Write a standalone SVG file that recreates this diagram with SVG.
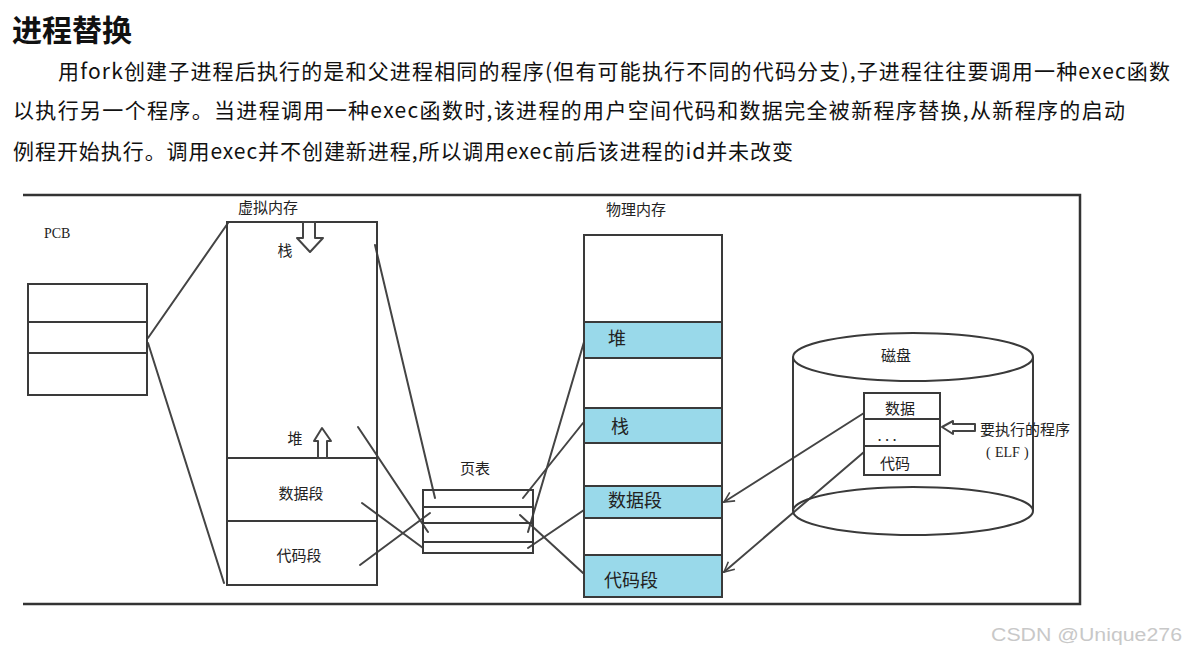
<svg xmlns="http://www.w3.org/2000/svg" width="1187" height="656" viewBox="0 0 1187 656">
<defs>
<style>
.bg{fill:#fff}
.title{font-family:"Noto Sans CJK SC","Noto Sans",sans-serif;font-size:30px;font-weight:bold;fill:#111}
.para{font-family:"Noto Sans CJK SC","Noto Sans",sans-serif;font-size:21px;fill:#111}
.lbl{font-family:"Noto Sans CJK SC",sans-serif;font-size:15px;fill:#222;text-anchor:middle}
.lbl2{font-family:"Noto Sans CJK SC",sans-serif;font-size:18px;fill:#222}
.serif{font-family:"Liberation Serif",serif;font-size:14px;fill:#222}
.box{fill:#fff;stroke:#3a3a3a;stroke-width:2}
.blue{fill:#99d9ea;stroke:none}
.div{stroke:#3a3a3a;stroke-width:2;fill:none}
.ln{stroke:#444;stroke-width:2;fill:none;stroke-linecap:round}
.frame{stroke:#333;stroke-width:2.5;fill:none}
.harrow{fill:#fff;stroke:#444;stroke-width:2;stroke-linejoin:round}
.wm{font-family:"Liberation Sans",Arial,sans-serif;font-size:18px;fill:#c8c8c8}
</style>
<marker id="open" viewBox="0 0 12 12" refX="11" refY="6" markerWidth="12" markerHeight="12" markerUnits="userSpaceOnUse" orient="auto">
<path d="M1,1 L11,6 L1,11" fill="none" stroke="#444" stroke-width="1.6"/>
</marker>
</defs>
<rect class="bg" x="0" y="0" width="1187" height="656"/>

<g id="text-header">
<text class="title" x="12" y="41">进程替换</text>
<text class="para" x="58" y="79" textLength="1112" lengthAdjust="spacing">用fork创建子进程后执行的是和父进程相同的程序(但有可能执行不同的代码分支),子进程往往要调用一种exec函数</text>
<text class="para" x="13" y="118" textLength="1112" lengthAdjust="spacing">以执行另一个程序。当进程调用一种exec函数时,该进程的用户空间代码和数据完全被新程序替换,从新程序的启动</text>
<text class="para" x="13" y="159" textLength="780" lengthAdjust="spacing">例程开始执行。调用exec并不创建新进程,所以调用exec前后该进程的id并未改变</text>
</g>

<g id="frame">
<path class="frame" d="M23,195 H1080 V604 H23"/>
</g>

<g id="connectors">
<line class="ln" x1="148" y1="338" x2="228" y2="223"/>
<line class="ln" x1="148" y1="343" x2="224" y2="583"/>
<line class="ln" x1="375" y1="245" x2="435" y2="498"/>
<line class="ln" x1="358" y1="427" x2="428" y2="532"/>
<line class="ln" x1="362" y1="503" x2="423" y2="548"/>
<line class="ln" x1="360" y1="565" x2="430" y2="513"/>
<line class="ln" x1="523" y1="498" x2="583" y2="423"/>
<line class="ln" x1="528" y1="532" x2="584" y2="342"/>
<line class="ln" x1="520" y1="515" x2="583" y2="573"/>
<line class="ln" x1="528" y1="548" x2="587" y2="508"/>
<line class="ln" x1="864" y1="413" x2="724" y2="502" marker-end="url(#open)"/>
<line class="ln" x1="864" y1="452" x2="724" y2="572" marker-end="url(#open)"/>
</g>

<g id="pcb">
<text class="serif" x="44" y="238">PCB</text>
<rect class="box" x="28" y="284" width="119" height="111"/>
<line class="div" x1="28" y1="322" x2="147" y2="322"/>
<line class="div" x1="28" y1="353" x2="147" y2="353"/>
</g>

<g id="virtual-memory">
<text class="lbl" x="268" y="213">虚拟内存</text>
<rect class="box" x="227" y="222" width="150" height="363" style="fill:none"/>
<line class="div" x1="227" y1="458" x2="377" y2="458"/>
<line class="div" x1="227" y1="521" x2="377" y2="521"/>
<path class="harrow" d="M303,222 H315 V238 H323 L310,252 L297,238 H303 Z"/>
<path class="harrow" d="M318,458 V441 H314 L322,428 L331,441 H327 V458 Z"/>
<text class="lbl" x="285" y="256">栈</text>
<text class="lbl" x="295" y="444">堆</text>
<text class="lbl" x="301" y="499">数据段</text>
<text class="lbl" x="299" y="561">代码段</text>
</g>

<g id="page-table">
<text class="lbl" x="475" y="474">页表</text>
<rect class="box" x="423" y="490" width="110" height="63" style="fill:none"/>
<line class="div" x1="423" y1="507" x2="533" y2="507"/>
<line class="div" x1="423" y1="523" x2="533" y2="523"/>
<line class="div" x1="423" y1="542" x2="533" y2="542"/>
</g>

<g id="physical-memory">
<text class="lbl" x="636" y="215">物理内存</text>
<rect class="blue" x="584" y="322" width="138" height="36"/>
<rect class="blue" x="584" y="408" width="138" height="35"/>
<rect class="blue" x="584" y="486" width="138" height="32"/>
<rect class="blue" x="584" y="555" width="138" height="42"/>
<rect class="box" x="584" y="235" width="138" height="362" style="fill:none"/>
<line class="div" x1="584" y1="322" x2="722" y2="322"/>
<line class="div" x1="584" y1="358" x2="722" y2="358"/>
<line class="div" x1="584" y1="408" x2="722" y2="408"/>
<line class="div" x1="584" y1="443" x2="722" y2="443"/>
<line class="div" x1="584" y1="486" x2="722" y2="486"/>
<line class="div" x1="584" y1="518" x2="722" y2="518"/>
<line class="div" x1="584" y1="555" x2="722" y2="555"/>
<text class="lbl2" x="608" y="345">堆</text>
<text class="lbl2" x="611" y="433">栈</text>
<text class="lbl2" x="608" y="507">数据段</text>
<text class="lbl2" x="604" y="587">代码段</text>
</g>

<g id="disk">
<path class="div" d="M793,357 V511 M1033,357 V511"/>
<ellipse cx="913" cy="357" rx="120" ry="24" fill="none" stroke="#3a3a3a" stroke-width="2"/>
<ellipse cx="913" cy="511" rx="120" ry="24" fill="none" stroke="#3a3a3a" stroke-width="2"/>
<text class="lbl" x="896" y="361">磁盘</text>
</g>

<g id="elf">
<rect class="box" x="864" y="393" width="76" height="82"/>
<line class="div" x1="864" y1="419" x2="940" y2="419"/>
<line class="div" x1="864" y1="446" x2="940" y2="446"/>
<text class="lbl" x="900" y="414">数据</text>
<text class="lbl" x="887" y="441">. . .</text>
<text class="lbl" x="895" y="469">代码</text>
<path class="harrow" d="M942,427 L953,421 V424 H975 V431 H953 V434 Z"/>
<text class="lbl" x="980" y="435" style="text-anchor:start">要执行的程序</text>
<text class="serif" x="986" y="457">(<tspan x="995">ELF</tspan><tspan x="1024">)</tspan></text>
</g>

<g id="watermark">
<text class="wm" x="991" y="641" textLength="191" lengthAdjust="spacingAndGlyphs">CSDN @Unique276</text>
</g>
</svg>
